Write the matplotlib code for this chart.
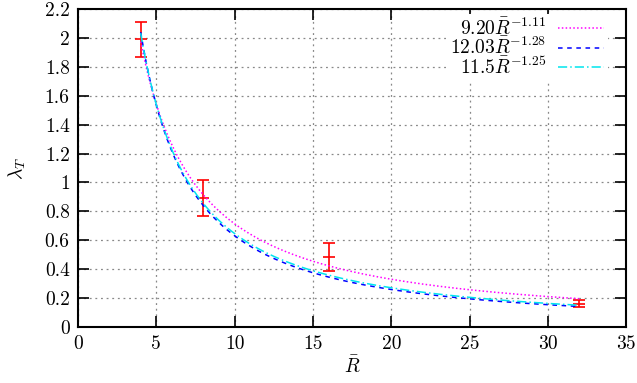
import numpy as np
import matplotlib
matplotlib.use('Agg')
import matplotlib.pyplot as plt

plt.rcParams['font.family'] = 'serif'
plt.rcParams['font.serif'] = ['cmr10']
plt.rcParams['mathtext.fontset'] = 'cm'
plt.rcParams['axes.formatter.use_mathtext'] = True

# measured points with error bars
r_pts = [4, 8, 16, 32]
lam_pts = [1.99, 0.89, 0.485, 0.163]
lam_err = [0.12, 0.125, 0.10, 0.022]

# power-law fits: prefactor, exponent, label
fit_a = [9.20, 12.03, 11.5]
fit_b = [-1.11, -1.28, -1.25]
fit_labels = [r'$9.20\bar{R}^{-1.11}$', r'$12.03\bar{R}^{-1.28}$', r'$11.5\bar{R}^{-1.25}$']
fit_colors = ['#ff00ff', '#0000ff', '#00e5ee']
fit_styles = [(0, (1, 1.5)), (0, (3, 3)), (0, (6, 2, 1, 2))]

x_ticks = [0, 5, 10, 15, 20, 25, 30, 35]
y_ticks = [0, 0.2, 0.4, 0.6, 0.8, 1, 1.2, 1.4, 1.6, 1.8, 2, 2.2]

fig, ax = plt.subplots(figsize=(6.37, 3.83), dpi=100)
fig.subplots_adjust(left=0.1225, right=0.983, bottom=0.146, top=0.9765)

ax.errorbar(r_pts, lam_pts, yerr=lam_err, fmt='_', color='red', ms=9, mew=1.2,
            elinewidth=1.2, capsize=4.5, capthick=1.2, zorder=2)

r = np.linspace(4, 32, 300)
for a, b, lab, c, ls in zip(fit_a, fit_b, fit_labels, fit_colors, fit_styles):
    ax.plot(r, a * r ** b, color=c, ls=ls, lw=1.1, label=lab, zorder=3)

ax.set_xlim(0, 35)
ax.set_ylim(0, 2.2)
ax.set_xticks(x_ticks)
ax.set_xticklabels([str(t) for t in x_ticks])
ax.set_yticks(y_ticks)
ax.set_yticklabels([('%g' % t) for t in y_ticks])
ax.tick_params(direction='in', length=8, width=1.2, top=True, right=True,
               labelsize=14, pad=6)
for s in ax.spines.values():
    s.set_linewidth(1.5)
ax.grid(True, color='#888888', ls=(0, (1.5, 3)), lw=0.9)

ax.set_xlabel(r'$\bar{R}$', fontsize=14, labelpad=2)
ax.set_ylabel(r'$\lambda_T$', fontsize=14, labelpad=12)

leg = ax.legend(loc='upper right', bbox_to_anchor=(1 - 18 / 548, 1 - 5 / 318),
                markerfirst=False, fontsize=14, frameon=True,
                framealpha=1, edgecolor='none', fancybox=False, handlelength=2.4,
                labelspacing=-0.1, borderaxespad=0.0, handletextpad=0.6,
                borderpad=0.2)
leg.get_frame().set_facecolor('white')

plt.savefig('out.png', dpi=100)
